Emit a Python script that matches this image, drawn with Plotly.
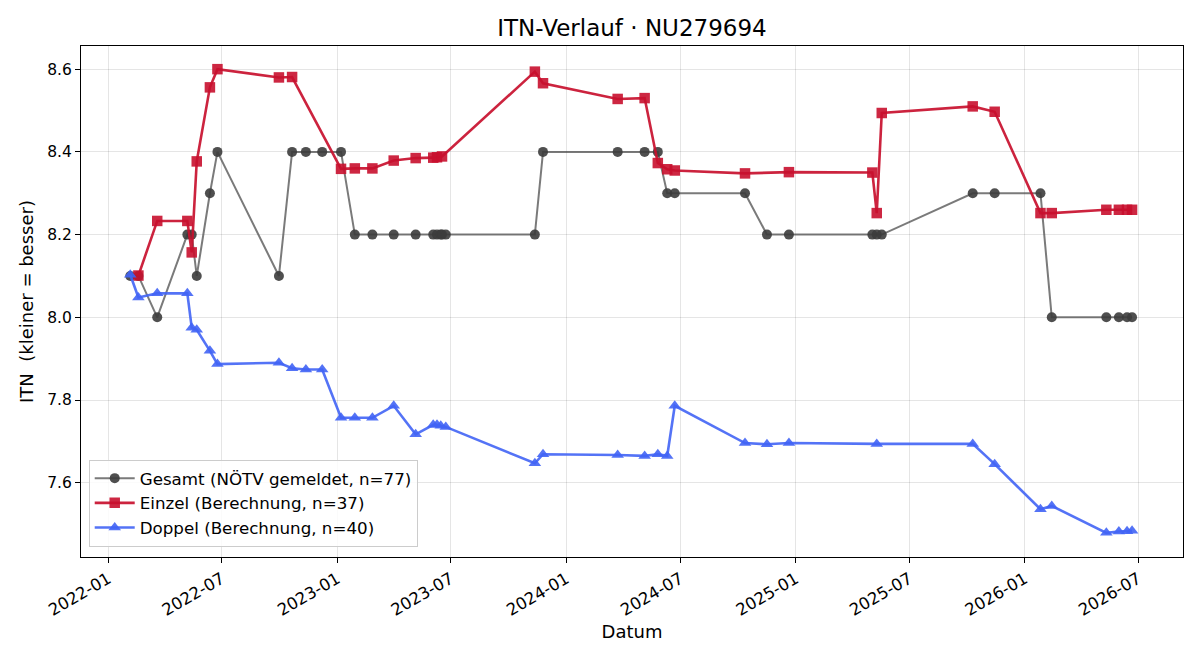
import plotly.graph_objects as go

# ---- data ----
gesamt_dates = [
    "2022-02-05", "2022-02-18", "2022-03-20", "2022-05-07", "2022-05-14", "2022-05-22",
    "2022-06-12", "2022-06-24", "2022-09-30", "2022-10-21", "2022-11-12", "2022-12-08",
    "2023-01-07", "2023-01-29", "2023-02-26", "2023-04-01", "2023-05-06", "2023-06-03",
    "2023-06-09", "2023-06-15", "2023-06-17", "2023-06-23", "2023-11-12", "2023-11-25",
    "2024-03-23", "2024-05-05", "2024-05-26", "2024-06-10", "2024-06-22", "2024-10-12",
    "2024-11-16", "2024-12-21", "2025-05-03", "2025-05-10", "2025-05-18", "2025-10-10",
    "2025-11-14", "2026-01-26", "2026-02-13", "2026-05-11", "2026-05-31", "2026-06-13",
    "2026-06-21",
]
gesamt_values = [
    8.1, 8.1, 8.0, 8.2, 8.2, 8.1,
    8.3, 8.4, 8.1, 8.4, 8.4, 8.4,
    8.4, 8.2, 8.2, 8.2, 8.2, 8.2,
    8.2, 8.2, 8.2, 8.2, 8.2, 8.4,
    8.4, 8.4, 8.4, 8.3, 8.3, 8.3,
    8.2, 8.2, 8.2, 8.2, 8.2, 8.3,
    8.3, 8.3, 8.0, 8.0, 8.0, 8.0,
    8.0,
]

einzel_dates = [
    "2022-02-18", "2022-03-20", "2022-05-07", "2022-05-14", "2022-05-22", "2022-06-12",
    "2022-06-24", "2022-09-30", "2022-10-21", "2023-01-07", "2023-01-29", "2023-02-26",
    "2023-04-01", "2023-05-06", "2023-06-03", "2023-06-09", "2023-06-17", "2023-11-12",
    "2023-11-25", "2024-03-23", "2024-05-05", "2024-05-26", "2024-06-10", "2024-06-22",
    "2024-10-12", "2024-12-21", "2025-05-03", "2025-05-10", "2025-05-18", "2025-10-10",
    "2025-11-14", "2026-01-26", "2026-02-13", "2026-05-11", "2026-05-31", "2026-06-13",
    "2026-06-21",
]
einzel_values = [
    8.101, 8.233, 8.233, 8.157, 8.377, 8.556,
    8.600, 8.580, 8.581, 8.359, 8.360, 8.360,
    8.379, 8.385, 8.386, 8.387, 8.389, 8.594,
    8.566, 8.528, 8.530, 8.373, 8.358, 8.355,
    8.348, 8.351, 8.350, 8.252, 8.494, 8.510,
    8.497, 8.252, 8.252, 8.260, 8.260, 8.260,
    8.260,
]

doppel_dates = [
    "2022-02-05", "2022-02-18", "2022-03-20", "2022-05-07", "2022-05-14", "2022-05-22",
    "2022-06-12", "2022-06-24", "2022-09-30", "2022-10-21", "2022-11-12", "2022-12-08",
    "2023-01-07", "2023-01-29", "2023-02-26", "2023-04-01", "2023-05-06", "2023-06-03",
    "2023-06-09", "2023-06-15", "2023-06-23", "2023-11-12", "2023-11-25", "2024-03-23",
    "2024-05-05", "2024-05-26", "2024-06-10", "2024-06-22", "2024-10-12", "2024-11-16",
    "2024-12-21", "2025-05-10", "2025-10-10", "2025-11-14", "2026-01-26", "2026-02-13",
    "2026-05-11", "2026-05-31", "2026-06-13", "2026-06-21",
]
doppel_values = [
    8.103, 8.048, 8.058, 8.058, 7.975, 7.970,
    7.919, 7.887, 7.890, 7.877, 7.874, 7.874,
    7.757, 7.757, 7.757, 7.786, 7.717, 7.740,
    7.740, 7.738, 7.735, 7.647, 7.669, 7.667,
    7.665, 7.669, 7.665, 7.786, 7.696, 7.693,
    7.696, 7.694, 7.694, 7.645, 7.536, 7.544,
    7.479, 7.482, 7.483, 7.484,
]

x_tick_values = ["2022-01-01", "2022-07-01", "2023-01-01", "2023-07-01", "2024-01-01",
                 "2024-07-01", "2025-01-01", "2025-07-01", "2026-01-01", "2026-07-01"]
x_tick_labels = ["2022-01", "2022-07", "2023-01", "2023-07", "2024-01",
                 "2024-07", "2025-01", "2025-07", "2026-01", "2026-07"]
y_tick_values = [7.6, 7.8, 8.0, 8.2, 8.4, 8.6]

FONT = "DejaVu Sans"

fig = go.Figure()
fig.add_trace(go.Scatter(
    x=gesamt_dates, y=gesamt_values, mode="lines+markers",
    name="Gesamt (NÖTV gemeldet, n=77)",
    line=dict(color="rgba(70,70,70,0.72)", width=2),
    marker=dict(symbol="circle", size=10, color="rgba(60,60,60,0.9)"),
))
fig.add_trace(go.Scatter(
    x=einzel_dates, y=einzel_values, mode="lines+markers",
    name="Einzel (Berechnung, n=37)",
    line=dict(color="rgba(200,16,46,0.92)", width=2.6),
    marker=dict(symbol="square", size=10.5, color="rgba(200,16,46,0.9)"),
))
fig.add_trace(go.Scatter(
    x=doppel_dates, y=doppel_values, mode="lines+markers",
    name="Doppel (Berechnung, n=40)",
    line=dict(color="rgba(65,100,245,0.9)", width=2.6),
    marker=dict(symbol="triangle-up", size=11, color="rgba(65,100,245,0.9)"),
))

fig.update_layout(
    width=1200, height=660,
    paper_bgcolor="white", plot_bgcolor="white",
    font=dict(family=FONT, size=15, color="black"),
    margin=dict(l=81, r=17, t=46, b=103),
    title=dict(text="ITN-Verlauf · NU279694", xref="paper", x=0.5, xanchor="center",
               yref="container", y=0.957, yanchor="middle",
               font=dict(size=23, family=FONT)),
    showlegend=True,
    legend=dict(x=0.007, y=0.02, xanchor="left", yanchor="bottom",
                bgcolor="rgba(255,255,255,0.85)", bordercolor="#cccccc", borderwidth=1,
                font=dict(size=16.7, family=FONT), itemwidth=40, tracegroupgap=2),
)
fig.update_xaxes(
    range=["2021-11-18 12:00", "2026-09-10 05:00"],
    tickmode="array", tickvals=x_tick_values, ticktext=x_tick_labels,
    tickangle=-30, ticks="outside", ticklen=5, tickcolor="black",
    showline=True, linecolor="black", linewidth=1.2, mirror=True,
    showgrid=True, gridcolor="rgba(0,0,0,0.1)", gridwidth=1,
    zeroline=False,
    title=dict(text="Datum", font=dict(size=18, family=FONT), standoff=6),
    tickfont=dict(size=16.5, family=FONT),
)
fig.update_yaxes(
    range=[7.4205, 8.656],
    tickmode="array", tickvals=y_tick_values, tickformat=".1f",
    ticks="outside", ticklen=5, tickcolor="black",
    showline=True, linecolor="black", linewidth=1.2, mirror=True,
    showgrid=True, gridcolor="rgba(0,0,0,0.1)", gridwidth=1,
    zeroline=False,
    title=dict(text="ITN  (kleiner = besser)", font=dict(size=18, family=FONT), standoff=8),
    tickfont=dict(size=15.5, family=FONT),
)

fig.write_html("out.html")
